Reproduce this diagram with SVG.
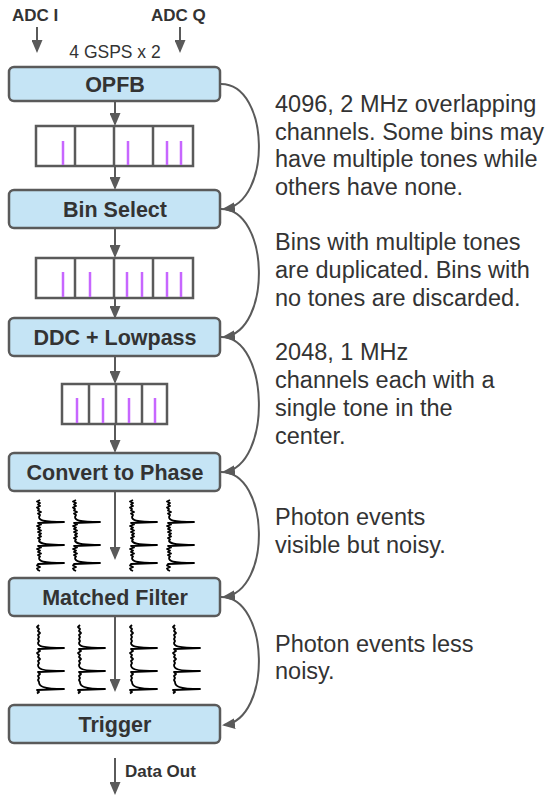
<svg xmlns="http://www.w3.org/2000/svg" width="545" height="795" viewBox="0 0 545 795">
  <style>
    .box { fill: #c5e4f5; stroke: #5a5a5a; stroke-width: 2.5; }
    .lbl { font-family: "Liberation Sans", Arial, sans-serif; font-weight: bold; font-size: 21.5px; fill: #333333; text-anchor: middle; }
    .io { font-family: "Liberation Sans", Arial, sans-serif; font-weight: bold; font-size: 17px; fill: #333333; }
    .note { font-family: "Liberation Sans", Arial, sans-serif; font-size: 23.5px; fill: #333333; }
    .small { font-family: "Liberation Sans", Arial, sans-serif; font-size: 17.5px; fill: #333333; text-anchor: middle; }
    .wire { fill: none; stroke: #5a5a5a; stroke-width: 2; marker-end: url(#head); }
    .bins { fill: #ffffff; stroke: #5a5a5a; stroke-width: 2.5; }
    .div { stroke: #5a5a5a; stroke-width: 2.5; }
    .tone { stroke: #c766ff; stroke-width: 2.5; }
    .wave { fill: none; stroke: #000000; stroke-width: 1.8; stroke-linejoin: round; }
  </style>
  <defs>
    <marker id="head" markerUnits="userSpaceOnUse" markerWidth="13" markerHeight="11" refX="11" refY="5.5" orient="auto">
      <path d="M0,0 L13,5.5 L0,11 z" fill="#5a5a5a"/>
    </marker>
    <!-- raw phase trace: noisy baseline with three pulses -->
    <path id="noisy" class="wave" d="M3,0 L0,1.5 L3,3 L1,4.5 L3,6 L0,7.5 L2,9 L1,10.5 L4,12 L1,13.5 L3,15 L2,17 C2,20 5,22 27,22 L1,23 L4,24.5 L0,26 L3,27.5 L1,29 L4,30.5 L1,32 L4,33.5 L2,35 L4,36.5 L1,38 L3,39.5 L2,41 C3,43 6,45 27,45 L1,46 L4,47.5 L0,49 L3,50.5 L1,52 L4,53.5 L1,55 L3,56.5 L2,58 C2,61 5,63 27,63 L1,64 L0,65.5 L3,67 L0,68.5 L1,70 L3,71"/>
    <!-- filtered trace: smoother baseline with three pulses -->
    <path id="smooth" class="wave" d="M2,0 L0,2 L2,4 L1,6 L3,8 L1,10 L2,12 L1,14 L2,16 L1,18 C1,21 4,23 27,23 L1,24 L3,26 L0,28 L2,30 L1,32 L3,34 L1,36 L2,38 L1,40 C1,44 4,46 27,46 L1,47 L3,49 L1,51 L2,53 L1,55 L2,57 C2,61 5,64 27,64 L0,65 L2,67 L0,68.5"/>
  </defs>

  <!-- inputs -->
  <g id="inputs">
    <text class="io" x="12" y="21">ADC I</text>
    <text class="io" x="151" y="21">ADC Q</text>
    <text class="small" x="115" y="58">4 GSPS x 2</text>
  </g>

  <!-- channel spectra between stages -->
  <g id="bins-opfb">
    <rect class="bins" x="36" y="126" width="157" height="40"/>
    <line class="div" x1="75" y1="126" x2="75" y2="166"/>
    <line class="div" x1="114" y1="126" x2="114" y2="166"/>
    <line class="div" x1="153" y1="126" x2="153" y2="166"/>
    <line class="tone" x1="63" y1="141" x2="63" y2="165"/>
    <line class="tone" x1="128" y1="141" x2="128" y2="165"/>
    <line class="tone" x1="167" y1="141" x2="167" y2="165"/>
    <line class="tone" x1="181" y1="141" x2="181" y2="165"/>
  </g>
  <g id="bins-select">
    <rect class="bins" x="36" y="258" width="157" height="40"/>
    <line class="div" x1="75" y1="258" x2="75" y2="298"/>
    <line class="div" x1="114" y1="258" x2="114" y2="298"/>
    <line class="div" x1="153" y1="258" x2="153" y2="298"/>
    <line class="tone" x1="63" y1="272" x2="63" y2="297"/>
    <line class="tone" x1="90" y1="272" x2="90" y2="297"/>
    <line class="tone" x1="127" y1="272" x2="127" y2="297"/>
    <line class="tone" x1="142" y1="272" x2="142" y2="297"/>
    <line class="tone" x1="167" y1="272" x2="167" y2="297"/>
    <line class="tone" x1="181" y1="272" x2="181" y2="297"/>
  </g>
  <g id="bins-ddc">
    <rect class="bins" x="62" y="384" width="105" height="40"/>
    <line class="div" x1="89" y1="384" x2="89" y2="424"/>
    <line class="div" x1="116" y1="384" x2="116" y2="424"/>
    <line class="div" x1="142" y1="384" x2="142" y2="424"/>
    <line class="tone" x1="77" y1="398" x2="77" y2="423"/>
    <line class="tone" x1="103" y1="398" x2="103" y2="423"/>
    <line class="tone" x1="129" y1="398" x2="129" y2="423"/>
    <line class="tone" x1="155" y1="398" x2="155" y2="423"/>
  </g>

  <!-- phase traces -->
  <g id="traces-phase">
    <use href="#noisy" x="37" y="500"/>
    <use href="#noisy" x="73" y="500"/>
    <use href="#noisy" x="130" y="500"/>
    <use href="#noisy" x="167" y="500"/>
  </g>
  <g id="traces-filtered">
    <use href="#smooth" x="37" y="625"/>
    <use href="#smooth" x="78" y="625"/>
    <use href="#smooth" x="130" y="625"/>
    <use href="#smooth" x="173" y="625"/>
  </g>

  <!-- connectors -->
  <g id="connectors">
    <line class="wire" x1="37" y1="27" x2="37" y2="51"/>
    <line class="wire" x1="180" y1="27" x2="180" y2="51"/>
    <line class="wire" x1="115" y1="101" x2="115" y2="124"/>
    <line class="wire" x1="115" y1="166" x2="115" y2="188"/>
    <line class="wire" x1="115" y1="228" x2="115" y2="256"/>
    <line class="wire" x1="115" y1="298" x2="115" y2="317"/>
    <line class="wire" x1="115" y1="356" x2="115" y2="382"/>
    <line class="wire" x1="115" y1="424" x2="115" y2="451"/>
    <line class="wire" x1="115" y1="491" x2="115" y2="558"/>
    <line class="wire" x1="115" y1="616" x2="115" y2="690"/>
    <line class="wire" x1="115" y1="758" x2="115" y2="793"/>
    <path class="wire" d="M221,84 C270,84 272,203 224,209"/>
    <path class="wire" d="M221,209 C270,209 272,331 224,337"/>
    <path class="wire" d="M221,337 C270,337 272,466 224,472"/>
    <path class="wire" d="M221,472 C270,472 272,591 224,597"/>
    <path class="wire" d="M221,597 C270,597 272,719 224,725"/>
  </g>

  <!-- processing stages -->
  <g id="opfb">
    <rect class="box" x="9" y="67" width="211" height="34" rx="5"/>
    <text class="lbl" x="115" y="92">OPFB</text>
  </g>
  <g id="bin-select">
    <rect class="box" x="9" y="190" width="211" height="38" rx="5"/>
    <text class="lbl" x="115" y="217">Bin Select</text>
  </g>
  <g id="ddc">
    <rect class="box" x="9" y="318" width="211" height="38" rx="5"/>
    <text class="lbl" x="115" y="345">DDC + Lowpass</text>
  </g>
  <g id="phase">
    <rect class="box" x="9" y="453" width="211" height="38" rx="5"/>
    <text class="lbl" x="115" y="480">Convert to Phase</text>
  </g>
  <g id="matched">
    <rect class="box" x="9" y="578" width="211" height="38" rx="5"/>
    <text class="lbl" x="115" y="605">Matched Filter</text>
  </g>
  <g id="trigger">
    <rect class="box" x="9" y="705" width="211" height="38" rx="5"/>
    <text class="lbl" x="115" y="732">Trigger</text>
  </g>

  <g id="output">
    <text class="io" x="125" y="777">Data Out</text>
  </g>

  <!-- stage notes -->
  <g id="notes">
    <text class="note" x="275" y="112">4096, 2 MHz overlapping</text>
    <text class="note" x="275" y="140">channels. Some bins may</text>
    <text class="note" x="275" y="167">have multiple tones while</text>
    <text class="note" x="275" y="195">others have none.</text>
    <text class="note" x="275" y="250">Bins with multiple tones</text>
    <text class="note" x="275" y="278">are duplicated. Bins with</text>
    <text class="note" x="275" y="306">no tones are discarded.</text>
    <text class="note" x="275" y="360">2048, 1 MHz</text>
    <text class="note" x="275" y="388">channels each with a</text>
    <text class="note" x="275" y="416">single tone in the</text>
    <text class="note" x="275" y="444">center.</text>
    <text class="note" x="275" y="525">Photon events</text>
    <text class="note" x="275" y="553">visible but noisy.</text>
    <text class="note" x="275" y="652">Photon events less</text>
    <text class="note" x="275" y="679">noisy.</text>
  </g>
</svg>
